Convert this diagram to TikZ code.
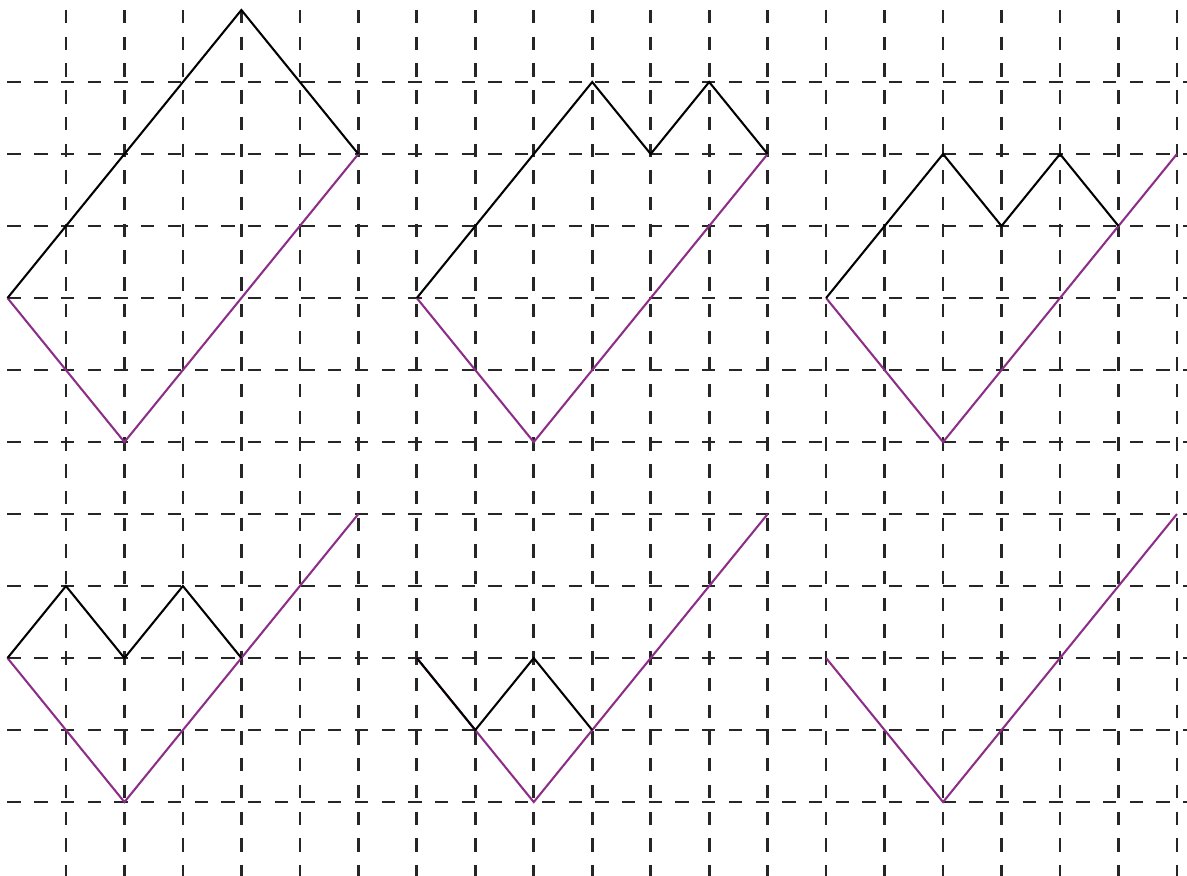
\documentclass[tikz,border=0pt]{standalone}
\definecolor{pathpurple}{RGB}{140,45,135}
\begin{document}
\begin{tikzpicture}[x=1cm,y=-1.2314cm,
  gridline/.style={line width=1.3pt,dash pattern=on 6.5pt off 6.5pt,black!85},
  blackpath/.style={line width=1pt,black,line join=miter},
  purplepath/.style={line width=1pt,pathpurple,line join=miter}]
\useasboundingbox (-0.128,-0.139) rectangle (20.172,12.014);
% grid
\foreach \i in {1,...,20} \draw[gridline] (\i,0) -- (\i,12.1);
\foreach \j in {1,...,11} \draw[gridline] (0,\j) -- (20.2,\j);
% panel 1
\coordinate (a0) at (0,4);
\draw[purplepath] (a0) -- (2,6) coordinate (a1) -- (6,2) coordinate (a2);
\draw[blackpath] (a0) -- (4,0) -- (a2);
% panel 2
\coordinate (b0) at (7,4);
\draw[purplepath] (b0) -- (9,6) -- (13,2) coordinate (b2);
\draw[blackpath] (b0) -- (10,1) -- (11,2) -- (12,1) -- (b2);
% panel 3
\coordinate (c0) at (14,4);
\draw[purplepath] (c0) -- (16,6) -- (20,2);
\draw[blackpath] (c0) -- (16,2) -- (17,3) -- (18,2) -- (19,3);
% panel 4
\coordinate (d0) at (0,9);
\draw[purplepath] (d0) -- (2,11) -- (6,7);
\draw[blackpath] (d0) -- (1,8) -- (2,9) -- (3,8) -- (4,9);
% panel 5
\coordinate (e0) at (7,9);
\draw[purplepath] (e0) -- (9,11) -- (13,7);
\draw[blackpath] (e0) -- (8,10) -- (9,9) -- (10,10);
% panel 6
\coordinate (f0) at (14,9);
\draw[purplepath] (f0) -- (16,11) -- (20,7);
\end{tikzpicture}
\end{document}
